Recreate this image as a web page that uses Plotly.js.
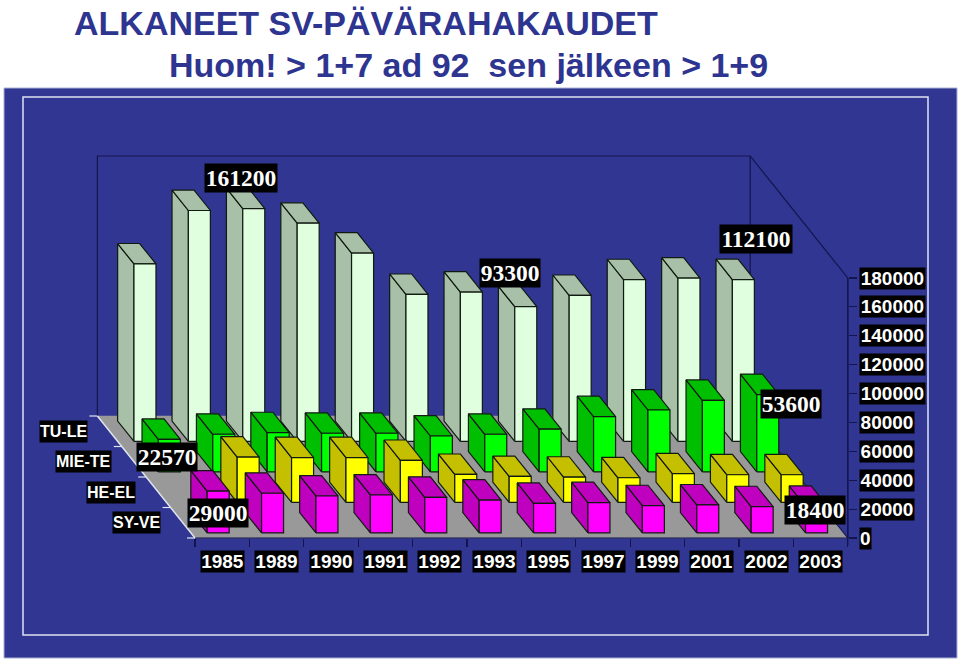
<!DOCTYPE html>
<html><head><meta charset="utf-8">
<script src="https://cdn.plot.ly/plotly-3.0.1.min.js"></script>
<style>html,body{margin:0;padding:0;background:#fff}#c{width:960px;height:662px}</style>
</head><body><div id="c"></div>
<script>
const years = ['1985','1989','1990','1991','1992','1993','1995','1997','1999','2001','2002','2003'];
const seriesNames = ['SY-VE','HE-EL','MIE-TE','TU-LE'];
const SY_VE  = [29000,27500,25600,26300,24700,22800,20500,21000,18900,19400,18200,18400];
const HE_EL  = [null,31400,31100,31100,29100,19400,18000,17500,17100,19900,19200,19200];
const MIE_TE = [22570,26100,27200,26800,26800,24900,26100,29600,38300,42900,49600,53600];
const TU_LE  = [122900,159900,161200,151100,130400,101800,103400,93300,101100,112000,113100,112100];
const valueTicks = [0,20000,40000,60000,80000,100000,120000,140000,160000,180000];
const frontColors = ['#ff00ff','#ffff00','#00ff00','#dfffdf'];
const sideColors  = ['#bf00bf','#c4c000','#00bf00','#a8c0a8'];
const labelled = [[3,2,-12.6,31],[3,7,-16,34],[3,11,13,41],[2,11,23,-9],[2,0,-2,-18],[0,0,0,-22],[0,11,-2,-4]];

const seriesValues = [SY_VE,HE_EL,MIE_TE,TU_LE];
const W=960,H=662;
const pxX=54.4, pxV=180000/260;            // one category in px, value units per px
const x0px=195, y0px=538;
const xRange=[-x0px/pxX,(W-x0px)/pxX], yRange=[-(H-y0px)*pxV,y0px*pxV];
const rowDX=24.4/pxX, rowDY=30.5*pxV;      // oblique depth of one series row
const barW=22/pxX, barD=0.67, pad=(1-barD)/2;
const ROWS=seriesNames.length, N=years.length, TOP=180000;

const navy='#14144f', light='#dfe4f0', edge='#111a11';
const traces=[];
const line=(xs,ys,color,width)=>traces.push({type:'scatter',mode:'lines',x:xs,y:ys,hoverinfo:'skip',showlegend:false,line:{color,width}});
const poly=(xs,ys,fill,lc,w)=>traces.push({type:'scatter',mode:'lines',x:[...xs,xs[0]],y:[...ys,ys[0]],fill:'toself',fillcolor:fill,hoverinfo:'skip',showlegend:false,line:{color:lc,width:w}});

const bx=-ROWS*rowDX, by=ROWS*rowDY;
// floor and walls
poly([bx,bx+N,N,0],[by,by,0,0],'#999999','#999999',0.5);
line([bx,bx,bx+N,bx+N,N,N],[by,by+TOP,by+TOP,by,0,TOP],navy,1.2);
line([bx+N,N],[by+TOP,TOP],navy,1.2);
line([0,N],[0,0],navy,1.2);
// light left floor edge with its depth ticks
line([bx,0],[by,0],light,1.5);
const tx=[],ty=[];
for(let r=0;r<=ROWS;r++){tx.push(-r*rowDX-8/pxX,-r*rowDX,null);ty.push(r*rowDY,r*rowDY,null);}
line(tx,ty,light,1.2);
line([N,N],[TOP,-7*pxV],navy,1.2);

// bars, back row first and right to left
const bar=(r,i)=>{const d=r+pad;return {x:i+0.5-d*rowDX,b:d*rowDY};};
for(let r=ROWS-1;r>=0;r--){
  for(let i=N-1;i>=0;i--){
    const v=seriesValues[r][i]; if(v==null) continue;
    const {x,b}=bar(r,i), l=x-barW/2, R=x+barW/2, t=b+v;
    const dx=barD*rowDX, dy=barD*rowDY;
    poly([l,l-dx,l-dx,l],[b,b+dy,t+dy,t],sideColors[r],edge,1.2);
    poly([l,R,R-dx,l-dx],[t,t,t+dy,t+dy],sideColors[r],edge,1.2);
    poly([l,R,R,l],[b,b,t,t],frontColors[r],edge,1.2);
  }
}

const ann=[];
const sans='"Liberation Sans",Arial,sans-serif', serif='"Liberation Serif","Times New Roman",serif';
const blk=(o,size,fam,weight)=>ann.push(Object.assign({showarrow:false,bgcolor:'#000',borderpad:0,align:'center',valign:'middle',font:{family:fam,size,color:'#fff',weight}},o));
// value tick labels
valueTicks.forEach(v=>blk({x:N,y:v,xref:'x',yref:'y',text:String(v),xanchor:'left',yanchor:'middle',xshift:11,height:21,width:String(v).length*10.8},19,sans,700));
// category labels
years.forEach((y,i)=>blk({x:i+0.5,y:0,xref:'x',yref:'y',text:y,xanchor:'center',yanchor:'middle',yshift:-23.5,height:21,width:43},19,sans,700));
// series labels
seriesNames.forEach((s,r)=>blk({x:-(r+.5)*rowDX,y:(r+.5)*rowDY,xref:'x',yref:'y',text:s,xanchor:'right',yanchor:'middle',xshift:-22,height:21},16,sans,700));
// data labels
labelled.forEach(([r,i,sx,sy])=>{const {x,b}=bar(r,i);const v=seriesValues[r][i];
  blk({x,y:b+v,xref:'x',yref:'y',text:String(v),xanchor:'center',yanchor:'middle',xshift:sx,yshift:sy,height:28,width:String(v).length*12},23.5,serif,700);});
// second title line
ann.push({xref:'paper',yref:'paper',x:167/W,y:1-65/H,xanchor:'left',yanchor:'middle',showarrow:false,
  text:'Huom! &gt; 1+7 ad 92  sen jälkeen &gt; 1+9',font:{family:sans,size:34,color:'#2e3590',weight:700}});

const layout={
  width:W,height:H,margin:{l:0,r:0,t:0,b:0},paper_bgcolor:'#fff',plot_bgcolor:'rgba(0,0,0,0)',showlegend:false,hovermode:false,
  title:{text:'ALKANEET SV-PÄVÄRAHAKAUDET',x:74/W,xanchor:'left',y:1-23/H,yanchor:'middle',font:{family:sans,size:34,color:'#2e3590',weight:700}},
  xaxis:{range:xRange,domain:[0,1],showgrid:false,zeroline:false,fixedrange:true,showline:false,anchor:'free',position:(H-y0px)/H,
    tickmode:'array',tickvals:years.map((_,i)=>i).concat(N),showticklabels:false,ticks:'outside',ticklen:8,tickwidth:1.2,tickcolor:navy},
  yaxis:{range:yRange,domain:[0,1],showgrid:false,zeroline:false,fixedrange:true,showline:false,side:'right',anchor:'free',position:(x0px+N*pxX)/W,
    tickmode:'array',tickvals:valueTicks,showticklabels:false,ticks:'outside',ticklen:8,tickwidth:1.2,tickcolor:navy},
  shapes:[
    {type:'rect',layer:'below',xref:'paper',yref:'paper',x0:4/W,x1:957/W,y0:1-658/H,y1:1-88/H,fillcolor:'#303691',line:{color:'#aab0d0',width:1}},
    {type:'rect',layer:'below',xref:'paper',yref:'paper',x0:23/W,x1:928/W,y0:1-635/H,y1:1-97/H,fillcolor:'rgba(0,0,0,0)',line:{color:light,width:1.5}}
  ],
  annotations:ann
};
Plotly.newPlot('c',traces,layout,{displayModeBar:false,staticPlot:true});
</script></body></html>
